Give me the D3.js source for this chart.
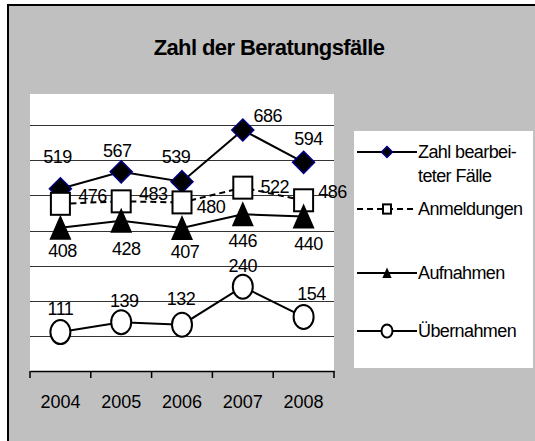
<!DOCTYPE html>
<html lang="de">
<head>
    <meta charset="utf-8">
    <script src="https://d3js.org/d3.v7.min.js"></script>
    <title>Zahl der Beratungsfälle</title>
    <style>
        body { margin: 0; background: #fff; }
        text { font-family: "Liberation Sans", Arial, sans-serif; fill: #000; }
    </style>
</head>
<body>
<div class="chart"></div>
<script>
    // Daten
    var years = ["2004", "2005", "2006", "2007", "2008"];
    var zahl = [519, 567, 539, 686, 594];
    var anmeldungen = [476, 483, 480, 522, 486];
    var aufnahmen = [408, 428, 407, 446, 440];
    var uebernahmen = [111, 139, 132, 240, 154];
    var seriesNames = ["Zahl bearbei-|teter Fälle", "Anmeldungen", "Aufnahmen", "Übernahmen"];
    var yTicks = [100, 200, 300, 400, 500, 600, 700];

    // Label-Verschiebung je Punkt [dx, dy] (Layout)
    var labelOffsets = [
        [[-3, -26], [-4, -15], [-6, -19], [25, -8], [5, -17]],
        [[32, -2], [32, -1], [29, 11], [32, 5], [29, -2]],
        [[2, 29], [5, 34], [3, 30], [0, 33], [5, 34]],
        [[0, -17], [3, -15], [-1, -20], [0, -15], [8, -17]]
    ];

    var width = 535, height = 441;
    var svg = d3.select("div.chart").append("svg")
        .attr("width", width)
        .attr("height", height);

    // Rahmen
    svg.append("rect")
        .attr("x", 8).attr("y", 5)
        .attr("width", 600).attr("height", 500)
        .attr("fill", "#c0c0c0")
        .attr("stroke", "#000").attr("stroke-width", 2);

    // Titel
    svg.append("text")
        .attr("x", 269).attr("y", 55)
        .attr("text-anchor", "middle")
        .attr("font-size", 22).attr("font-weight", "bold")
        .attr("letter-spacing", -0.6)
        .text("Zahl der Beratungsfälle");

    // Zeichenfläche
    var plotLeft = 30, plotRight = 334, plotTop = 94, plotBottom = 371;
    svg.append("rect")
        .attr("x", plotLeft).attr("y", plotTop)
        .attr("width", plotRight - plotLeft).attr("height", plotBottom - plotTop)
        .attr("fill", "#fff");

    var x = d3.scaleBand().domain(years).range([plotLeft, plotRight]);
    var y = d3.scaleLinear().domain([0, 800]).range([plotBottom, 90]);
    var cx = function (d) { return x(d) + x.bandwidth() / 2; };

    // Gitternetz
    svg.append("g").selectAll("line")
        .data(yTicks).enter().append("line")
        .attr("x1", plotLeft).attr("x2", plotRight)
        .attr("y1", function (d) { return Math.round(y(d)) + 0.5; })
        .attr("y2", function (d) { return Math.round(y(d)) + 0.5; })
        .attr("stroke", "#333").attr("stroke-width", 1);

    // x-Achse
    var xAxis = svg.append("g")
        .attr("transform", "translate(0," + plotBottom + ")")
        .call(d3.axisBottom(x).tickSize(0).tickPadding(0).tickFormat(""));
    xAxis.select(".domain").attr("stroke", "#000").attr("stroke-width", 1.5);
    xAxis.selectAll(".bound")
        .data(d3.range(years.length + 1)).enter().append("line")
        .attr("x1", function (i) { return plotLeft + i * x.step(); })
        .attr("x2", function (i) { return plotLeft + i * x.step(); })
        .attr("y1", 0).attr("y2", 7)
        .attr("stroke", "#000").attr("stroke-width", 1.5);
    svg.append("g").selectAll("text")
        .data(years).enter().append("text")
        .attr("x", cx).attr("y", 408)
        .attr("text-anchor", "middle")
        .attr("font-size", 18)
        .text(function (d) { return d; });

    // Marker
    function marker(g, type, s) {
        if (type === 0) {
            g.append("path")
                .attr("d", "M0," + (-11 * s) + "L" + (11 * s) + ",0L0," + (11 * s) + "L" + (-11 * s) + ",0Z")
                .attr("fill", "#000").attr("stroke", "#000080").attr("stroke-width", 1.5);
        } else if (type === 1) {
            g.append("rect")
                .attr("x", -9.5 * s).attr("y", -11 * s)
                .attr("width", 19 * s).attr("height", 22 * s)
                .attr("fill", "#fff").attr("stroke", "#000").attr("stroke-width", 2);
        } else if (type === 2) {
            g.append("path")
                .attr("d", "M0," + (-13 * s) + "L" + (11 * s) + "," + (12 * s) + "L" + (-11 * s) + "," + (12 * s) + "Z")
                .attr("fill", "#000");
        } else {
            g.append("ellipse")
                .attr("rx", 10 * s).attr("ry", 12 * s)
                .attr("fill", "#fff").attr("stroke", "#000").attr("stroke-width", 2);
        }
    }

    var series = [zahl, anmeldungen, aufnahmen, uebernahmen];
    var line = d3.line()
        .x(function (d, i) { return cx(years[i]); })
        .y(function (d) { return y(d); });

    series.forEach(function (vals, k) {
        var g = svg.append("g");
        g.append("path")
            .attr("d", line(vals))
            .attr("fill", "none")
            .attr("stroke", "#000").attr("stroke-width", 2)
            .attr("stroke-dasharray", k === 1 ? "6 4" : null);
        vals.forEach(function (v, i) {
            var m = g.append("g")
                .attr("transform", "translate(" + cx(years[i]) + "," + y(v) + ")");
            marker(m, k, 1);
        });
    });

    // Datenbeschriftungen
    series.forEach(function (vals, k) {
        svg.append("g").selectAll("text")
            .data(vals).enter().append("text")
            .attr("x", function (d, i) { return cx(years[i]) + labelOffsets[k][i][0]; })
            .attr("y", function (d, i) { return y(d) + labelOffsets[k][i][1]; })
            .attr("text-anchor", "middle")
            .attr("font-size", 18)
            .attr("letter-spacing", -0.5)
            .text(function (d) { return d; });
    });

    // Legende
    var legend = svg.append("g");
    legend.append("rect")
        .attr("x", 354).attr("y", 131)
        .attr("width", 179).attr("height", 237)
        .attr("fill", "#fff");
    var legendY = [152, 209, 273, 331];
    seriesNames.forEach(function (name, k) {
        var ly = legendY[k];
        legend.append("line")
            .attr("x1", 357).attr("x2", 417)
            .attr("y1", ly).attr("y2", ly)
            .attr("stroke", "#000").attr("stroke-width", 2)
            .attr("stroke-dasharray", k === 1 ? "6 4" : null);
        var m = legend.append("g").attr("transform", "translate(387," + ly + ")");
        marker(m, k, k === 0 ? 0.5 : (k === 3 ? 0.55 : 0.42));
        var t = legend.append("text")
            .attr("x", 418).attr("y", ly + 5.5)
            .attr("font-size", 18)
            .attr("letter-spacing", -0.6);
        name.split("|").forEach(function (part, j) {
            t.append("tspan")
                .attr("x", 418)
                .attr("dy", j === 0 ? 0 : 24)
                .text(part);
        });
    });
</script>
</body>
</html>
